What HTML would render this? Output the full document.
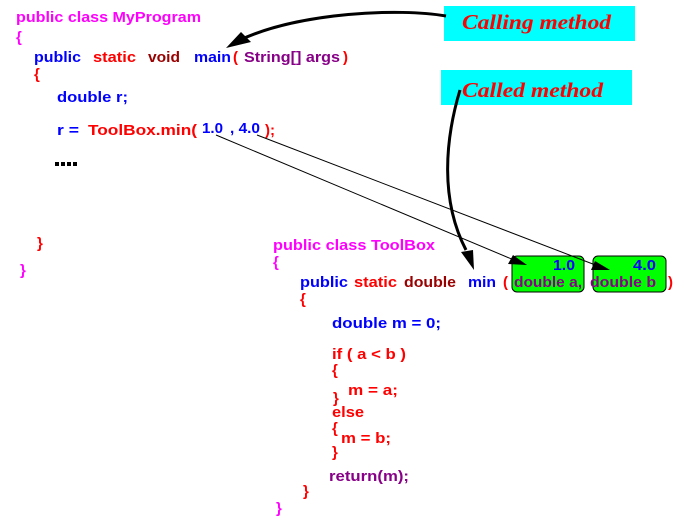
<!DOCTYPE html>
<html><head><meta charset="utf-8"><style>
html,body{margin:0;padding:0;background:#fff;width:689px;height:522px;overflow:hidden}
svg text{font-family:"Liberation Sans",sans-serif;font-size:15px;font-weight:bold}
.m{fill:#ff00ff}.b{fill:#0000ff}.r{fill:#ff0000}.d{fill:#990000}.p{fill:#880088}
.lab{font-family:"Liberation Serif",serif;font-size:21px;font-style:italic;font-weight:bold;fill:#ff0000}
</style></head><body>
<svg width="689" height="522" xmlns="http://www.w3.org/2000/svg">
<rect x="444" y="6" width="191" height="35" fill="#00ffff"/>
<rect x="441" y="70" width="191" height="35" fill="#00ffff"/>
<text class="lab" x="462" y="29" textLength="149" lengthAdjust="spacingAndGlyphs">Calling method</text>
<text class="lab" x="462" y="97" textLength="141" lengthAdjust="spacingAndGlyphs">Called method</text>

<rect x="512" y="256" width="72" height="36" rx="5" fill="#00ff00" stroke="#000" stroke-width="1"/>
<rect x="593" y="256" width="73" height="36" rx="5" fill="#00ff00" stroke="#000" stroke-width="1"/>

<text class="m" x="16" y="22" textLength="185" lengthAdjust="spacingAndGlyphs">public class MyProgram</text>
<text class="m" x="16" y="42">{</text>
<text class="b" x="34" y="62" textLength="47" lengthAdjust="spacingAndGlyphs">public</text>
<text class="r" x="93" y="62" textLength="43" lengthAdjust="spacingAndGlyphs">static</text>
<text class="d" x="148" y="62" textLength="32" lengthAdjust="spacingAndGlyphs">void</text>
<text class="b" x="194" y="62" textLength="37" lengthAdjust="spacingAndGlyphs">main</text>
<text class="r" x="233" y="62">(</text>
<text class="p" x="244" y="62" textLength="96" lengthAdjust="spacingAndGlyphs">String[] args</text>
<text class="r" x="343" y="62">)</text>
<text class="r" x="34" y="79">{</text>
<text class="b" x="57" y="102" textLength="71" lengthAdjust="spacingAndGlyphs">double r;</text>
<text class="b" x="57" y="135" textLength="22" lengthAdjust="spacingAndGlyphs">r =</text>
<text class="r" x="88" y="135" textLength="109" lengthAdjust="spacingAndGlyphs">ToolBox.min(</text>
<text class="b" x="202" y="133" textLength="21" lengthAdjust="spacingAndGlyphs">1.0</text>
<text class="b" x="230" y="133" textLength="30" lengthAdjust="spacingAndGlyphs">, 4.0</text>
<text class="r" x="265" y="135">);</text>
<rect x="55" y="162" width="4" height="4" fill="#000"/><rect x="61" y="162" width="4" height="4" fill="#000"/><rect x="67" y="162" width="4" height="4" fill="#000"/><rect x="73" y="162" width="4" height="4" fill="#000"/>
<text class="r" x="37" y="248">}</text>
<text class="m" x="20" y="275">}</text>

<text class="m" x="273" y="250" textLength="162" lengthAdjust="spacingAndGlyphs">public class ToolBox</text>
<text class="m" x="273" y="267">{</text>
<text class="b" x="300" y="287" textLength="48" lengthAdjust="spacingAndGlyphs">public</text>
<text class="r" x="354" y="287" textLength="43" lengthAdjust="spacingAndGlyphs">static</text>
<text class="d" x="404" y="287" textLength="52" lengthAdjust="spacingAndGlyphs">double</text>
<text class="b" x="468" y="287" textLength="28" lengthAdjust="spacingAndGlyphs">min</text>
<text class="r" x="503" y="287">(</text>
<text class="p" x="514" y="287" textLength="68" lengthAdjust="spacingAndGlyphs">double a,</text>
<text class="p" x="590" y="287" textLength="66" lengthAdjust="spacingAndGlyphs">double b</text>
<text class="r" x="668" y="287">)</text>
<text class="b" x="553" y="270" textLength="22" lengthAdjust="spacingAndGlyphs">1.0</text>
<text class="b" x="633" y="270" textLength="23" lengthAdjust="spacingAndGlyphs">4.0</text>
<text class="r" x="300" y="304">{</text>
<text class="b" x="332" y="328" textLength="109" lengthAdjust="spacingAndGlyphs">double m = 0;</text>
<text class="r" x="332" y="359" textLength="74" lengthAdjust="spacingAndGlyphs">if ( a &lt; b )</text>
<text class="r" x="332" y="375">{</text>
<text class="r" x="348" y="395" textLength="50" lengthAdjust="spacingAndGlyphs">m = a;</text>
<text class="r" x="333" y="403">}</text>
<text class="r" x="332" y="417" textLength="32" lengthAdjust="spacingAndGlyphs">else</text>
<text class="r" x="332" y="433">{</text>
<text class="r" x="341" y="443" textLength="50" lengthAdjust="spacingAndGlyphs">m = b;</text>
<text class="r" x="332" y="457">}</text>
<text class="p" x="329" y="481" textLength="80" lengthAdjust="spacingAndGlyphs">return(m);</text>
<text class="r" x="303" y="496">}</text>
<text class="m" x="276" y="513">}</text>

<line x1="216" y1="135" x2="514" y2="260" stroke="#000" stroke-width="1"/>
<polygon points="527,265 508,264 513,255" fill="#000"/>
<line x1="257" y1="135" x2="598" y2="266" stroke="#000" stroke-width="1"/>
<polygon points="610,270 591,270 595,261" fill="#000"/>

<path d="M446,16 C400,8 300,12 240,40" fill="none" stroke="#000" stroke-width="3"/>
<polygon points="226,48 241,32 251,42" fill="#000"/>
<path d="M460,90 C445,140 440,200 466,250" fill="none" stroke="#000" stroke-width="3"/>
<polygon points="474,270 461,252 473,250" fill="#000"/>
</svg>
</body></html>
